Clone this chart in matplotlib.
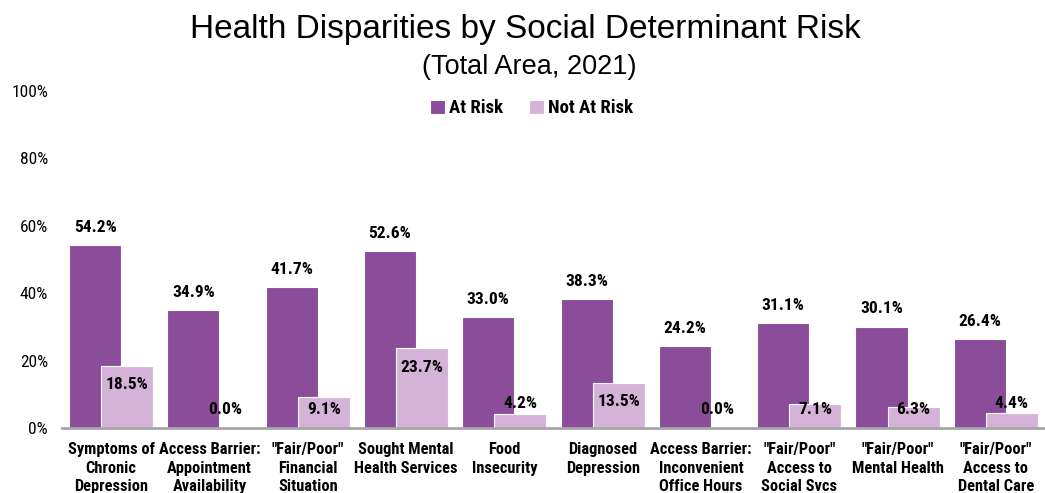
import matplotlib
matplotlib.use("Agg")
import numpy as np
import matplotlib.pyplot as plt

# Data
categories = [
    "Symptoms of\nChronic\nDepression",
    "Access Barrier:\nAppointment\nAvailability",
    "\"Fair/Poor\"\nFinancial\nSituation",
    "Sought Mental\nHealth Services",
    "Food\nInsecurity",
    "Diagnosed\nDepression",
    "Access Barrier:\nInconvenient\nOffice Hours",
    "\"Fair/Poor\"\nAccess to\nSocial Svcs",
    "\"Fair/Poor\"\nMental Health",
    "\"Fair/Poor\"\nAccess to\nDental Care",
]
at_risk = [54.2, 34.9, 41.7, 52.6, 33.0, 38.3, 24.2, 31.1, 30.1, 26.4]
not_at_risk = [18.5, 0.0, 9.1, 23.7, 4.2, 13.5, 0.0, 7.1, 6.3, 4.4]
y_ticks = [0, 20, 40, 60, 80, 100]

dark = '#8B4D99'
light = '#D5B3D9'
narrow = ['Roboto Condensed', 'Liberation Sans', 'DejaVu Sans']
plt.rcParams['font.family'] = narrow

fig = plt.figure(figsize=(10.45, 4.93), dpi=100)
ax = fig.add_axes([0.0593, 0.1318, 0.9407, 0.6836])

x = np.arange(len(categories))
off = 0.163
w = 0.53
ax.bar(x - off, at_risk, w, color=dark, edgecolor='white', linewidth=0.8,
       label='At Risk', zorder=2)
ax.bar(x + off, not_at_risk, w, color=light, edgecolor='white', linewidth=0.8,
       label='Not At Risk', zorder=3)

# Value labels
for i, v in enumerate(at_risk):
    ax.text(x[i] - off, v + 3.0, f"{v:.1f}%", ha='center', va='bottom',
            fontsize=12.5, fontweight='bold', zorder=4)
for i, v in enumerate(not_at_risk):
    if v > 12:
        yl = v - 5.7
    elif 0 < v < 5:
        yl = v + 3.0
    else:
        yl = 5.4
    ax.text(x[i] + off, yl, f"{v:.1f}%", ha='center', va='center',
            fontsize=12.5, fontweight='bold', zorder=4)

# Axes styling
ax.set_xlim(-0.5, len(categories) - 0.5)
ax.set_ylim(0, 100)
ax.set_yticks(y_ticks)
ax.set_yticklabels([f"{t}%" for t in y_ticks], fontsize=12.5)
ax.tick_params(axis='y', length=0, pad=10)
ax.set_xticks(x)
ax.set_xticklabels(categories, fontsize=11.8, fontweight='bold', linespacing=1.3)
ax.tick_params(axis='x', length=0, pad=10)
for s in ['top', 'right', 'left']:
    ax.spines[s].set_visible(False)
ax.spines['bottom'].set_color('#A6A6A6')
ax.spines['bottom'].set_linewidth(2)
ax.spines['bottom'].set_zorder(5)

# Legend
leg = ax.legend(loc='upper center', bbox_to_anchor=(0.478, 1.025), ncol=2,
                frameon=False, handlelength=0.75, handleheight=0.75,
                handletextpad=0.25, columnspacing=1.4,
                prop={'family': narrow, 'weight': 'bold', 'size': 13.5})

# Titles
fig.text(0.503, 0.94, "Health Disparities by Social Determinant Risk",
         ha='center', va='center', fontsize=24, family='Liberation Sans')
fig.text(0.506, 0.864, "(Total Area, 2021)", ha='center', va='center',
         fontsize=19.5, family='Liberation Sans')

fig.savefig('out.png', dpi=100)
